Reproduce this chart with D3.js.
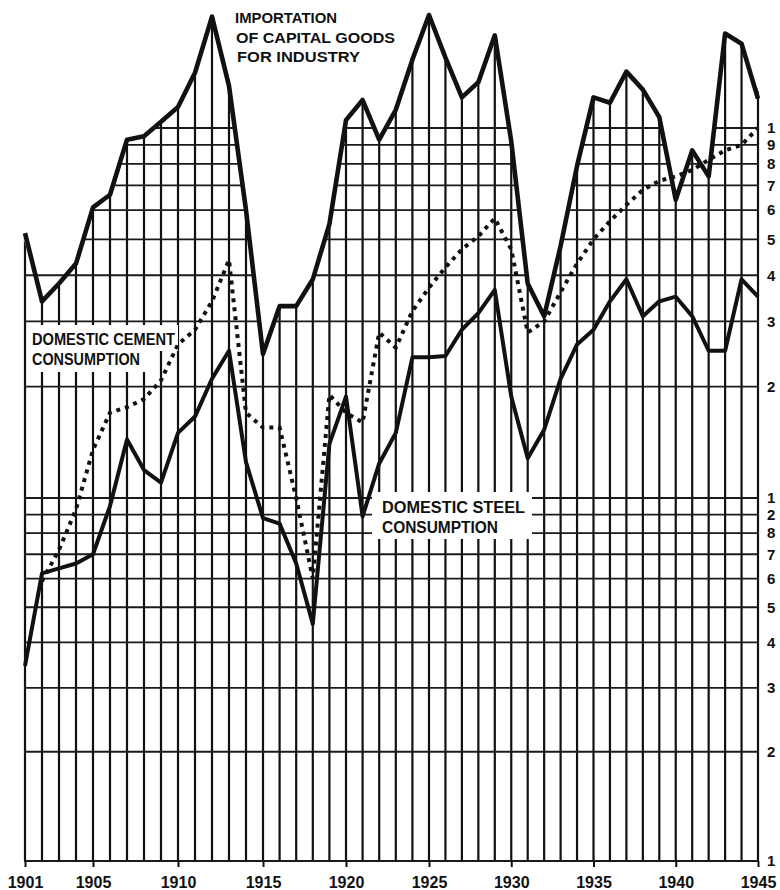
<!DOCTYPE html>
<html><head><meta charset="utf-8">
<script src="https://cdn.jsdelivr.net/npm/d3@7"></script>
<style>body{margin:0;background:#fff}svg{display:block}</style>
</head><body>
<svg id="c" width="780" height="890"></svg>
<script>
// ---------- data ----------
const years = d3.range(1901, 1946);
const importation = [52,34,38,43,61,66,93,95,104,114,141,200,130,60,24.5,33,33,39,55,105,
  119,93,112,153,202,155,121,133,178,92,38,31,48,79,121,117,142,127,107,64,87,74,180,169,120];
const steel = [3.45,6.2,6.4,6.6,7.0,9.5,14.4,11.9,11.0,15,16.6,21,25,12.5,8.8,8.5,6.6,4.5,14,18.8,
  8.9,12.4,15,24,24,24.2,28.5,31.6,36.5,18.8,12.8,15.3,21,26,28.5,34,39,31,34,35,31,25,25,39,35];
const cement = [null,5.9,7.2,9.3,13.5,17,17.6,18.5,20.8,26,28.5,34,44,17,15.5,15.5,10,6,19,17,
  16,28,25.5,32,37,42,47,51,57,47,28,30,36,43,50,56,62,68,72,74,77,82,87,90,100];
const yTickValues = [1,2,3,4,5,6,7,8,9,10,20,30,40,50,60,70,80,90,100];
const yTickLabels = ["1","2","3","4","5","6","7","8","2","1","2","3","4","5","6","7","8","9","1"];
const xTickValues = [1901,1905,1910,1915,1920,1925,1930,1935,1940,1945];
const labelImport = ["IMPORTATION","OF CAPITAL GOODS","FOR INDUSTRY"];
const labelCement = ["DOMESTIC CEMENT","CONSUMPTION"];
const labelSteel = ["DOMESTIC STEEL","CONSUMPTION"];

// ---------- scales ----------
const svg = d3.select("#c");
const bottom = 861;
// hand-ruled paper: year spacing slightly wider on the left part
const x = d3.scaleLinear().domain([1901,1915,1925,1945]).range([25,263,429,758]);
const y = d3.scaleLog().domain([1,10,100]).range([bottom,498,128]);
const ink = "#111";

// ---------- clip (grid lies under the importation curve) ----------
const n = years.length;
const area = d3.area()
  .x((d,i)=>x(years[i]) + (i===0?-3:(i===n-1?3:0)))
  .y0(bottom+12).y1(d=>y(d));
const defs = svg.append("defs");
defs.append("clipPath").attr("id","clipV").append("path").attr("d", area(importation));
const clipH = defs.append("clipPath").attr("id","clipH");
clipH.append("path").attr("d", area(importation));
clipH.append("rect").attr("x", x(1901)-3).attr("y", y(40)-2)
  .attr("width", x(1904)-x(1901)+4).attr("height", bottom-y(40)+14);

// ---------- grid ----------
svg.append("g").attr("clip-path","url(#clipV)")
  .selectAll("line").data(years).join("line")
  .attr("x1", d=>x(d)).attr("x2", d=>x(d))
  .attr("y1", 0).attr("y2", bottom)
  .attr("stroke", ink).attr("stroke-width", 2.2);
svg.append("g").attr("clip-path","url(#clipH)")
  .selectAll("line").data(yTickValues).join("line")
  .attr("x1", x(1901)-1).attr("x2", x(1945)+1)
  .attr("y1", d=>y(d)).attr("y2", d=>y(d))
  .attr("stroke", "#1a1a1a").attr("stroke-width", 1.8);

// ---------- label boxes (white) ----------
const boxes = svg.append("g").attr("fill","#fff");
boxes.append("rect").attr("x",27).attr("y",325).attr("width",151).attr("height",26);
boxes.append("rect").attr("x",27).attr("y",350).attr("width",122).attr("height",22);
boxes.append("rect").attr("x",372).attr("y",492).attr("width",160).attr("height",47);

// ---------- series ----------
const line = d3.line().defined(d=>d!=null).x((d,i)=>x(years[i])).y(d=>y(d));
svg.append("path").attr("d", line(cement)).attr("fill","none")
  .attr("stroke", ink).attr("stroke-width", 4).attr("stroke-dasharray","4,5");
svg.append("path").attr("d", line(steel)).attr("fill","none")
  .attr("stroke", ink).attr("stroke-width", 4).attr("stroke-linejoin","round");
svg.append("path").attr("d", line(importation)).attr("fill","none")
  .attr("stroke", ink).attr("stroke-width", 4.6).attr("stroke-linejoin","round");

// ---------- axes ----------
const fontFam = "'Liberation Sans', Arial, sans-serif";
const xa = svg.append("g").attr("transform",`translate(0,${bottom})`)
  .call(d3.axisBottom(x).tickValues(xTickValues).tickSize(6).tickPadding(10).tickFormat(d3.format("d")));
xa.select(".domain").remove();
xa.selectAll("line").attr("stroke", ink).attr("stroke-width", 2);
xa.selectAll("text").attr("font-family", fontFam).attr("font-weight","bold")
  .attr("font-size", 16).attr("fill", ink);

const ya = svg.append("g").attr("transform",`translate(${x(1945)},0)`)
  .call(d3.axisRight(y).tickValues(yTickValues).tickSize(0).tickPadding(9)
    .tickFormat((d,i)=>yTickLabels[i]));
ya.select(".domain").remove();
ya.selectAll("text").attr("font-family", fontFam).attr("font-weight","bold")
  .attr("font-size", 15).attr("fill", ink);

// ---------- labels ----------
function label(lines, xs, ys, lens, fs){
  svg.append("g").selectAll("text").data(lines).join("text")
    .attr("x",(d,i)=>xs[i]).attr("y",(d,i)=>ys[i])
    .attr("textLength",(d,i)=>lens[i]).attr("lengthAdjust","spacingAndGlyphs")
    .attr("font-family", fontFam).attr("font-weight","bold")
    .attr("font-size", fs).attr("fill", ink).text(d=>d);
}
label(labelImport, [235,236,237], [23,43,62], [102,159,123], 14);
label(labelCement, [32,32], [345,365], [143,108], 16);
label(labelSteel, [382,382], [513,533], [143,116], 16);
</script>
</body></html>
